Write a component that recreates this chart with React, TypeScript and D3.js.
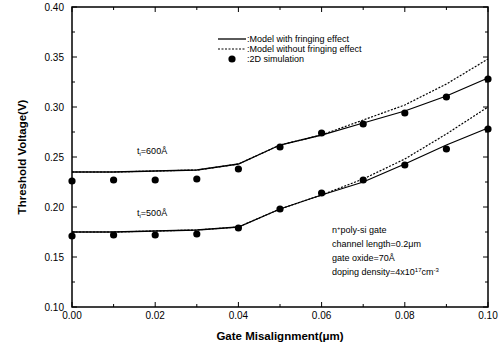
import React, { useEffect, useRef } from 'react';
import * as d3 from 'd3';

const misalign = [0, 0.01, 0.02, 0.03, 0.04, 0.05, 0.06, 0.07, 0.08, 0.09, 0.1];
const fringe600 = [0.235, 0.235, 0.236, 0.237, 0.243, 0.262, 0.272, 0.284, 0.296, 0.311, 0.329];
const noFringe600 = [0.235, 0.235, 0.236, 0.237, 0.243, 0.262, 0.272, 0.287, 0.302, 0.323, 0.348];
const sim600 = [0.226, 0.227, 0.227, 0.228, 0.238, 0.26, 0.274, 0.283, 0.294, 0.31, 0.328];
const fringe500 = [0.175, 0.175, 0.176, 0.177, 0.18, 0.198, 0.212, 0.225, 0.243, 0.262, 0.279];
const noFringe500 = [0.175, 0.175, 0.176, 0.177, 0.18, 0.198, 0.212, 0.228, 0.248, 0.273, 0.3];
const sim500 = [0.171, 0.172, 0.172, 0.173, 0.179, 0.198, 0.214, 0.227, 0.242, 0.258, 0.278];
const xTicks = [0, 0.02, 0.04, 0.06, 0.08, 0.1];
const yTicks = [0.1, 0.15, 0.2, 0.25, 0.3, 0.35, 0.4];

const App = () => {
    const svgRef = useRef<SVGSVGElement>(null);

    useEffect(() => {
        const svg = d3.select(svgRef.current);
        svg.selectAll('*').remove();

        const left = 72, right = 488, top = 7, bottom = 307;
        const x = d3.scaleLinear().domain([0, 0.1]).range([left, right]);
        const y = d3.scaleLinear().domain([0.1, 0.4]).range([bottom, top]);
        const font = 'Liberation Sans, Arial, sans-serif';

        const g = svg.append('g');

        // frame
        g.append('rect')
            .attr('x', left).attr('y', top)
            .attr('width', right - left).attr('height', bottom - top)
            .attr('fill', 'none').attr('stroke', '#000').attr('stroke-width', 1.5);

        // ticks, inward on all four sides
        const ticks = g.append('g').attr('stroke', '#000').attr('stroke-width', 1);
        d3.range(0, 0.1001, 0.01).forEach((v, i) => {
            const len = i % 2 === 0 ? 5 : 3;
            ticks.append('line').attr('x1', x(v)).attr('x2', x(v)).attr('y1', bottom).attr('y2', bottom - len);
            ticks.append('line').attr('x1', x(v)).attr('x2', x(v)).attr('y1', top).attr('y2', top + len);
        });
        d3.range(0.1, 0.4001, 0.025).forEach((v, i) => {
            const len = i % 2 === 0 ? 5 : 3;
            ticks.append('line').attr('y1', y(v)).attr('y2', y(v)).attr('x1', left).attr('x2', left + len);
            ticks.append('line').attr('y1', y(v)).attr('y2', y(v)).attr('x1', right).attr('x2', right - len);
        });

        // tick labels
        g.append('g').selectAll('text').data(xTicks).enter().append('text')
            .attr('x', d => x(d)).attr('y', bottom + 12)
            .attr('text-anchor', 'middle')
            .style('font-family', font).style('font-size', '10px')
            .text(d => d.toFixed(2));
        g.append('g').selectAll('text').data(yTicks).enter().append('text')
            .attr('x', left - 8).attr('y', d => y(d) + 3.5)
            .attr('text-anchor', 'end')
            .style('font-family', font).style('font-size', '10px')
            .text(d => d.toFixed(2));

        // axis titles
        g.append('text')
            .attr('x', (left + right) / 2).attr('y', 340)
            .attr('text-anchor', 'middle')
            .style('font-family', font).style('font-size', '11.5px').style('font-weight', 'bold')
            .text('Gate Misalignment(μm)');
        g.append('text')
            .attr('transform', `translate(26, ${(top + bottom) / 2}) rotate(-90)`)
            .attr('text-anchor', 'middle')
            .style('font-family', font).style('font-size', '11.5px').style('font-weight', 'bold')
            .text('Threshold Voltage(V)');

        const line = d3.line<number>()
            .x((d, i) => x(misalign[i]))
            .y(d => y(d));

        const curves = g.append('g').attr('fill', 'none').attr('stroke', '#000');
        [noFringe600, noFringe500].forEach(s => {
            curves.append('path').attr('d', line(s)).attr('stroke-width', 1.2).attr('stroke-dasharray', '2,1.5');
        });
        [fringe600, fringe500].forEach(s => {
            curves.append('path').attr('d', line(s)).attr('stroke-width', 1.3);
        });

        const dots = g.append('g').attr('fill', '#000');
        [sim600, sim500].forEach(s => {
            s.forEach((v, i) => {
                dots.append('circle').attr('cx', x(misalign[i])).attr('cy', y(v)).attr('r', 3.6);
            });
        });

        // legend
        const legend = g.append('g').style('font-family', font).style('font-size', '9px');
        legend.append('line').attr('x1', 218).attr('x2', 246).attr('y1', 39).attr('y2', 39)
            .attr('stroke', '#000').attr('stroke-width', 1.3);
        legend.append('line').attr('x1', 218).attr('x2', 246).attr('y1', 49).attr('y2', 49)
            .attr('stroke', '#000').attr('stroke-width', 1.2).attr('stroke-dasharray', '2,1.5');
        legend.append('circle').attr('cx', 232).attr('cy', 59).attr('r', 3.6).attr('fill', '#000');
        legend.append('text').attr('x', 247).attr('y', 42).text(':Model with fringing effect');
        legend.append('text').attr('x', 247).attr('y', 52).text(':Model without fringing effect');
        legend.append('text').attr('x', 247).attr('y', 62).text(':2D simulation');

        // thickness labels
        const tl = g.append('g').style('font-family', font).style('font-size', '9px');
        const t600 = tl.append('text').attr('x', 137).attr('y', 154);
        t600.append('tspan').text('t');
        t600.append('tspan').attr('dy', 2).style('font-size', '6px').text('i');
        t600.append('tspan').attr('dy', -2).text('=600Å');
        const t500 = tl.append('text').attr('x', 137).attr('y', 216);
        t500.append('tspan').text('t');
        t500.append('tspan').attr('dy', 2).style('font-size', '6px').text('i');
        t500.append('tspan').attr('dy', -2).text('=500Å');

        // device parameters
        const note = g.append('g').style('font-family', font).style('font-size', '9px');
        const n1 = note.append('text').attr('x', 332).attr('y', 233);
        n1.append('tspan').text('n');
        n1.append('tspan').attr('dy', -3).style('font-size', '6px').text('+');
        n1.append('tspan').attr('dy', 3).text('poly-si gate');
        note.append('text').attr('x', 332).attr('y', 247).text('channel length=0.2μm');
        note.append('text').attr('x', 332).attr('y', 261).text('gate oxide=70Å');
        const n4 = note.append('text').attr('x', 332).attr('y', 275);
        n4.append('tspan').text('doping density=4x10');
        n4.append('tspan').attr('dy', -3).style('font-size', '6px').text('17');
        n4.append('tspan').attr('dy', 3).text('cm');
        n4.append('tspan').attr('dy', -3).style('font-size', '6px').text('-3');
    }, []);

    return (
        <svg ref={svgRef} width={504} height={351}
            style={{ position: 'absolute', left: 0, top: 0, background: '#fff' }} />
    );
};

export default App;
